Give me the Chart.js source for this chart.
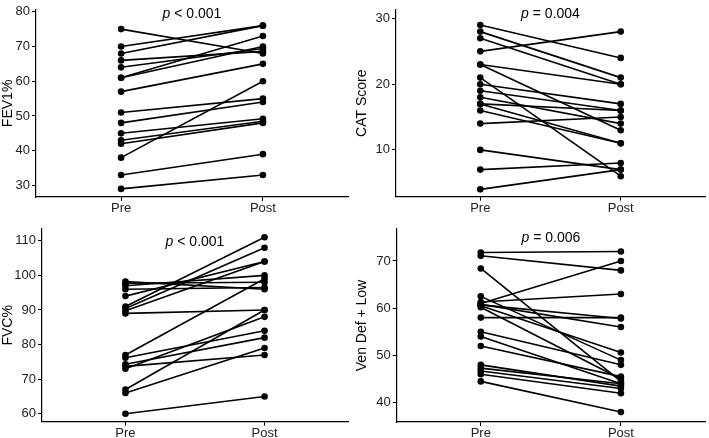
<!DOCTYPE html>
<html><head><meta charset="utf-8">
<script src="https://cdn.jsdelivr.net/npm/chart.js@4/dist/chart.umd.min.js"></script>
<style>
html,body{margin:0;padding:0;background:#fff;width:709px;height:438px;overflow:hidden}
.p{position:absolute}
</style></head><body>
<div class="p" style="left:0;top:0;width:354px;height:219px"><canvas id="c1"></canvas></div>
<div class="p" style="left:354px;top:0;width:355px;height:219px"><canvas id="c2"></canvas></div>
<div class="p" style="left:0;top:219px;width:354px;height:219px"><canvas id="c3"></canvas></div>
<div class="p" style="left:354px;top:219px;width:355px;height:219px"><canvas id="c4"></canvas></div>
<script>
// ---- data ----
const timeLabels = ['Pre', 'Post'];

const fevPre  = [75, 70, 68, 66, 64, 61, 61, 57, 51, 48, 45, 43, 42, 38, 33, 29];
const fevPost = [68, 76, 76, 68.6, 69.4, 73, 70, 65, 55, 54, 49.2, 48.5, 48, 60, 39, 33];
const fevTicks = [30, 40, 50, 60, 70, 80];

const catPre  = [29, 28, 27, 25, 23, 23, 21, 20, 19, 18, 17, 17, 16, 14, 10, 7, 4];
const catPost = [24, 21, 20, 28, 20, 13, 6, 17, 16, 14, 16, 11, 11, 15, 7, 8, 7];
const catTicks = [10, 20, 30];

const fvcPre  = [98.2, 97.7, 97, 96, 94, 91, 90.4, 89.8, 89, 77, 76.2, 74.3, 73.7, 73, 67, 66, 60];
const fvcPost = [96, 98, 100, 96.5, 104, 111, 108, 104, 90, 99, 84, 82, 77, 88, 90, 79, 65];
const fvcTicks = [60, 70, 80, 90, 100, 110];

const vdlPre  = [71.8, 71.1, 68.4, 62.5, 61.3, 61, 60.8, 60.7, 60.5, 60.2, 58, 55, 54, 52, 48, 47.3, 46.7, 46, 44.5];
const vdlPost = [72, 68, 44.5, 49, 63, 70, 56, 57.8, 50.6, 45, 58, 48, 44, 45.5, 43.5, 44, 43, 42, 38];
const vdlTicks = [40, 50, 60, 70];

const yTitles = ['FEV1%', 'CAT Score', 'FVC%', 'Ven Def + Low'];
const pTexts = [' < 0.001', ' = 0.004', ' < 0.001', ' = 0.006'];

// ---- rendering ----
const FONT = '"Liberation Sans", Arial, Helvetica, sans-serif';

const pLabelPlugin = {
  id: 'plabel',
  afterDraw(chart, args, opts) {
    const ctx = chart.ctx, a = chart.chartArea;
    ctx.save();
    ctx.fillStyle = '#000';
    ctx.textBaseline = 'middle';
    ctx.font = 'italic 14px ' + FONT;
    const w1 = ctx.measureText('p').width;
    ctx.font = '14px ' + FONT;
    const w2 = ctx.measureText(opts.rest).width;
    const x = (a.left + a.right) / 2 - (w1 + w2) / 2;
    ctx.font = 'italic 14px ' + FONT;
    ctx.fillText('p', x, opts.y);
    ctx.font = '14px ' + FONT;
    ctx.fillText(opts.rest, x + w1, opts.y);
    ctx.restore();
  }
};

function makePanel(id, pre, post, ticks, yMin, yMax, title, pRest, L) {
  const datasets = pre.map((v, i) => ({
    data: [{x: 1, y: v}, {x: 2, y: post[i]}],
    borderColor: '#000', backgroundColor: '#000',
    borderWidth: 1.6, pointRadius: 3.3, pointBorderWidth: 0,
    showLine: true
  }));
  new Chart(document.getElementById(id), {
    type: 'scatter',
    data: {datasets},
    plugins: [pLabelPlugin],
    options: {
      responsive: true, maintainAspectRatio: false, animation: false,
      layout: {padding: {top: L.top, right: L.right, left: 0, bottom: 0}},
      plugins: {legend: {display: false}, tooltip: {enabled: false}, plabel: {rest: pRest, y: L.pY}},
      scales: {
        x: {
          type: 'linear', min: 0.4, max: 2.6,
          afterBuildTicks: s => { s.ticks = [1, 2].map(v => ({value: v})); },
          afterFit: s => { s.height = L.xh; },
          ticks: {callback: v => timeLabels[v - 1], color: '#222', font: {family: FONT, size: 13}, padding: 0, maxRotation: 0},
          grid: {drawOnChartArea: false, drawTicks: true, tickLength: 4, color: '#000', lineWidth: 1},
          border: {display: true, color: '#000', width: 1.2}
        },
        y: {
          type: 'linear', min: yMin, max: yMax,
          afterBuildTicks: s => { s.ticks = ticks.map(v => ({value: v})); },
          afterFit: s => { s.width = L.yw; },
          ticks: {color: '#222', font: {family: FONT, size: 13}, padding: 2},
          grid: {drawOnChartArea: false, drawTicks: true, tickLength: 4, color: '#000', lineWidth: 1},
          border: {display: true, color: '#000', width: 1.2},
          title: {display: true, text: title, color: '#000', font: {family: FONT, size: 14}, padding: {top: 0, bottom: 0}}
        }
      }
    }
  });
}

makePanel('c1', fevPre, fevPost, fevTicks, 26.67, 80.56, yTitles[0], pTexts[0], {yw: 36, right: 6, top: 3, xh: 22, pY: 14});
makePanel('c2', catPre, catPost, catTicks, 2.88, 31.32, yTitles[1], pTexts[1], {yw: 42, right: 2.3, top: 3.3, xh: 22.3, pY: 14});
makePanel('c3', fvcPre, fvcPost, fvcTicks, 57.7, 113.4, yTitles[2], pTexts[2], {yw: 42, right: 6, top: 10, xh: 16.3, pY: 23});
makePanel('c4', vdlPre, vdlPost, vdlTicks, 35.9, 76.76, yTitles[3], pTexts[3], {yw: 42.7, right: 2.3, top: 10, xh: 16, pY: 19});
</script>
</body></html>
